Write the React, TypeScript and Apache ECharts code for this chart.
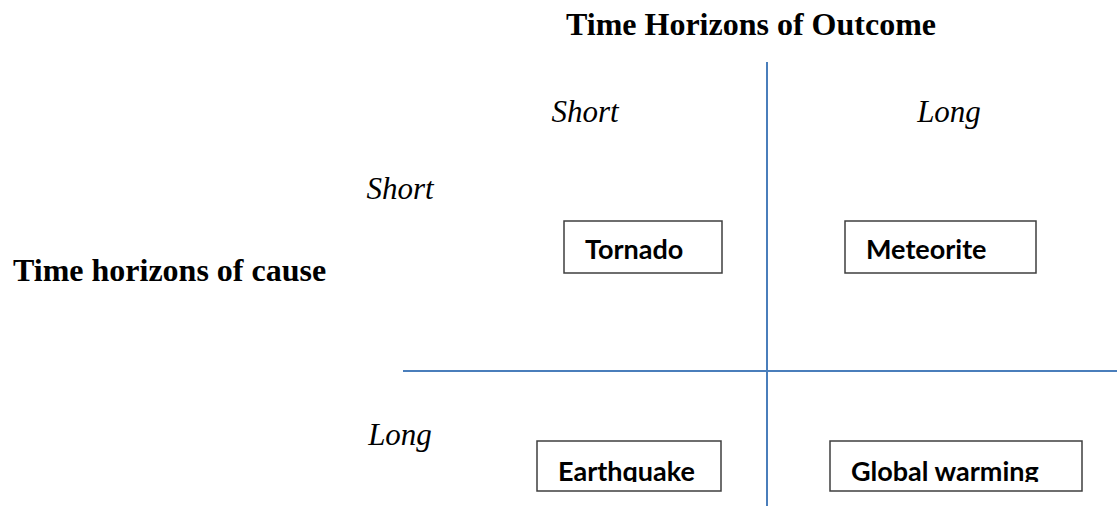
import React, { useEffect, useRef } from 'react';
import * as echarts from 'echarts';

// ---- content ----
const chartTitle = 'Time Horizons of Outcome';
const causeAxisTitle = 'Time horizons of cause';
const outcomeHorizons = ['Short', 'Long'];
const causeHorizons = ['Short', 'Long'];
const eventNames = ['Tornado', 'Meteorite', 'Earthquake', 'Global warming'];
const eventOutcome = ['Short', 'Long', 'Short', 'Long'];
const eventCause = ['Short', 'Short', 'Long', 'Long'];

// ---- styles / layout ----
const SERIF = "'Liberation Serif', 'Times New Roman', serif";
const SANS = "Lato, 'Open Sans', sans-serif";
const LINE_COLOR = '#4a7ebb';
const BOX_STROKE = '#3f3f3f';
const BOX_WIDTHS = [158, 191, 184, 252];
const BOX_GAPS = [45, 78, 46, 63];
const ROW_OFFSETS = [-150, 70];
const BOX_HEIGHTS = [52, 50];
const TEXT_MID = [27.6, 29.6];
const TEXT_CLIP = [39, 41];
const TEXT_PAD = 21;

export default function App() {
  const ref = useRef<HTMLDivElement>(null);

  useEffect(() => {
    if (!ref.current) return;
    const chart = echarts.init(ref.current, null, { renderer: 'svg' });

    const eventData = eventNames.map((name, i) => [
      outcomeHorizons.indexOf(eventOutcome[i]),
      causeHorizons.indexOf(eventCause[i]),
      name,
    ]);

    const headerLabel = {
      fontFamily: SERIF,
      fontStyle: 'italic',
      fontSize: 31,
      color: '#000',
    };

    chart.setOption({
      animation: false,
      grid: [
        { left: 403, top: 62, width: 728, height: 618, outerBoundsMode: 'none', containLabel: false },
        { left: 440, top: 65, width: 100, height: 492, outerBoundsMode: 'none', containLabel: false },
      ],
      xAxis: [
        {
          type: 'category',
          gridIndex: 0,
          data: outcomeHorizons,
          position: 'top',
          axisLine: { show: false },
          axisTick: { show: false },
          splitLine: { show: false },
          axisLabel: {
            ...headerLabel,
            inside: true,
            margin: 49,
            verticalAlign: 'middle',
            interval: 0,
          },
        },
        { type: 'value', gridIndex: 1, show: false },
      ],
      yAxis: [
        { type: 'category', gridIndex: 0, data: causeHorizons, inverse: true, show: false },
        {
          type: 'category',
          gridIndex: 1,
          data: causeHorizons,
          inverse: true,
          axisLine: { show: false },
          axisTick: { show: false },
          splitLine: { show: false },
          axisLabel: {
            ...headerLabel,
            margin: 40,
            align: 'center',
            verticalAlign: 'middle',
            interval: 0,
          },
        },
      ],
      graphic: [
        {
          type: 'text',
          x: 751,
          y: 24,
          style: {
            text: chartTitle,
            font: `bold 32px ${SERIF}`,
            fill: '#000',
            align: 'center',
            verticalAlign: 'middle',
            textAlign: 'center',
            textVerticalAlign: 'middle',
          },
        },
        {
          type: 'text',
          x: 13,
          y: 270,
          style: {
            text: causeAxisTitle,
            font: `bold 32px ${SERIF}`,
            fill: '#000',
            align: 'left',
            verticalAlign: 'middle',
            textAlign: 'left',
            textVerticalAlign: 'middle',
          },
        },
      ],
      series: [
        {
          type: 'custom',
          name: 'dividers',
          xAxisIndex: 0,
          yAxisIndex: 0,
          silent: true,
          clip: false,
          data: [[0, 0]],
          renderItem: (params: any, api: any) => {
            const c = api.coord([0, 0]);
            const s = api.size([1, 1]);
            const left = c[0] - s[0] / 2;
            const top = c[1] - s[1] / 2;
            const cx = c[0] + s[0] / 2;
            const cy = c[1] + s[1] / 2;
            return {
              type: 'group',
              children: [
                {
                  type: 'line',
                  shape: { x1: cx, y1: top, x2: cx, y2: top + 2 * s[1] },
                  style: { stroke: LINE_COLOR, lineWidth: 2 },
                },
                {
                  type: 'line',
                  shape: { x1: left, y1: cy, x2: left + 2 * s[0], y2: cy },
                  style: { stroke: LINE_COLOR, lineWidth: 2 },
                },
              ],
            };
          },
        },
        {
          type: 'custom',
          name: 'events',
          xAxisIndex: 0,
          yAxisIndex: 0,
          silent: true,
          clip: false,
          data: eventData,
          renderItem: (params: any, api: any) => {
            const i = params.dataIndex;
            const xi = api.value(0);
            const yi = api.value(1);
            const c = api.coord([xi, yi]);
            const s = api.size([1, 1]);
            const crossX = xi === 0 ? c[0] + s[0] / 2 : c[0] - s[0] / 2;
            const crossY = yi === 0 ? c[1] + s[1] / 2 : c[1] - s[1] / 2;
            const w = BOX_WIDTHS[i];
            const h = BOX_HEIGHTS[yi];
            const boxLeft = xi === 0 ? crossX - BOX_GAPS[i] - w : crossX + BOX_GAPS[i];
            const boxTop = crossY + ROW_OFFSETS[yi];
            return {
              type: 'group',
              children: [
                {
                  type: 'rect',
                  shape: { x: boxLeft, y: boxTop, width: w, height: h },
                  style: { fill: '#fff', stroke: BOX_STROKE, lineWidth: 1.5 },
                },
                {
                  type: 'text',
                  clipPath: {
                    type: 'rect',
                    shape: { x: boxLeft, y: boxTop, width: w, height: TEXT_CLIP[yi] },
                  },
                  style: {
                    x: boxLeft + TEXT_PAD,
                    y: boxTop + TEXT_MID[yi],
                    text: eventNames[i],
                    fill: '#000',
                    font: `bold 27px ${SANS}`,
                    align: 'left',
                    verticalAlign: 'middle',
                  },
                },
              ],
            };
          },
        },
      ],
    });

    return () => chart.dispose();
  }, []);

  return (
    <div
      ref={ref}
      style={{ position: 'fixed', left: 0, top: 0, width: 1117, height: 506, background: '#fff' }}
    />
  );
}
